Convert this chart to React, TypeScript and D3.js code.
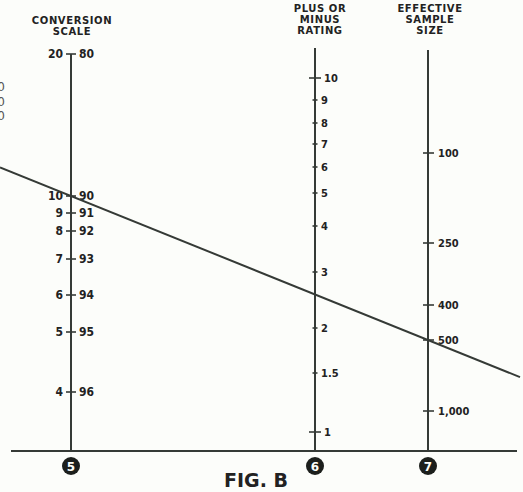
import React from "react";
import * as d3 from "d3";

// Nomogram data: tick labels and their positions along each scale (0 = baseline, 100 = top)
const conversionLeft = ["20", "10", "9", "8", "7", "6", "5", "4"];
const conversionRight = ["80", "90", "91", "92", "93", "94", "95", "96"];
const conversionPos = [99.25, 63.75, 59.5, 55, 48, 39, 29.75, 14.75];

const ratingLabels = ["10", "9", "8", "7", "6", "5", "4", "3", "2", "1.5", "1"];
const ratingPos = [93.25, 87.75, 82, 76.75, 71, 64.5, 56.25, 44.75, 30.75, 19.5, 4.75];

const sampleLabels = ["100", "250", "400", "500", "1,000"];
const samplePos = [74.5, 52, 36.5, 27.75, 10];

// Solution line: from "10" on the conversion scale to "500" on the sample-size scale
const solutionFrom = 63.75;
const solutionTo = 27.75;

const W = 523;
const H = 492;
const BASE = 451;
const AX5 = 71;
const AX6 = 315;
const AX7 = 428;
const INK = "#353a36";
const FONT = "'DejaVu Sans', sans-serif";
const NARROW = "'Liberation Sans Narrow', 'DejaVu Sans Condensed', 'Liberation Sans', sans-serif";

export default function App() {
  const y = d3.scaleLinear().domain([0, 100]).range([BASE, 51]);
  const slope = (y(solutionTo) - y(solutionFrom)) / (AX7 - AX5);
  const lineY = (x: number) => y(solutionFrom) + slope * (x - AX5);
  const line = d3.line<number>().x((d) => d).y((d) => lineY(d));

  const title = (lines: string[], cx: number, y0: number) =>
    lines.map((t, i) => (
      <text key={t} x={cx} y={y0 + i * 11} textAnchor="middle" fontFamily={FONT}
        fontWeight="bold" fontSize={10} letterSpacing={0.6} fill="#222">{t}</text>
    ));

  return (
    <svg width={W} height={H} style={{ position: "absolute", left: 0, top: 0 }}>
      <rect width={W} height={H} fill="#fcfdfa" />
      {/* cropped texts at left edge (partly outside the reference frame) */}
      {[91, 106, 120].map((yy) => (
        <text key={yy} x={5} y={yy} textAnchor="end" fontFamily={FONT} fontSize={12} fill="#555">0</text>
      ))}
      {title(["CONVERSION", "SCALE"], 72, 24)}
      {title(["PLUS OR", "MINUS", "RATING"], 320, 12)}
      {title(["EFFECTIVE", "SAMPLE", "SIZE"], 430, 12)}

      {/* baseline */}
      <line x1={11} x2={517} y1={BASE} y2={BASE} stroke={INK} strokeWidth={2} />
      {/* axes */}
      <line x1={AX5} x2={AX5} y1={y(99.25)} y2={BASE} stroke={INK} strokeWidth={2} />
      <line x1={AX6} x2={AX6} y1={48} y2={BASE} stroke={INK} strokeWidth={2} />
      <line x1={AX7} x2={AX7} y1={50} y2={BASE} stroke={INK} strokeWidth={2} />

      {/* conversion scale */}
      {conversionPos.map((p, i) => (
        <g key={i}>
          <line x1={AX5 - 5} x2={AX5 + 5} y1={y(p)} y2={y(p)} stroke={INK} strokeWidth={1.6} />
          <text x={AX5 - 8} y={y(p) + 4} textAnchor="end" fontFamily={NARROW} fontWeight="bold" fontSize={12} fill="#222">{conversionLeft[i]}</text>
          <text x={AX5 + 8} y={y(p) + 4} fontFamily={NARROW} fontWeight="bold" fontSize={12} fill="#222">{conversionRight[i]}</text>
        </g>
      ))}

      {/* rating scale */}
      {ratingPos.map((p, i) => {
        const big = ratingLabels[i] === "10" || ratingLabels[i] === "1";
        return (
          <g key={i}>
            <line x1={AX6 - (big ? 6 : 2.5)} x2={AX6 + (big ? 6 : 2.5)} y1={y(p)} y2={y(p)} stroke={INK} strokeWidth={1.6} />
            <text x={AX6 + (big ? 9 : 6)} y={y(p) + 4} fontFamily={NARROW} fontWeight="bold" fontSize={11} fill="#222">{ratingLabels[i]}</text>
          </g>
        );
      })}

      {/* sample size scale */}
      {samplePos.map((p, i) => (
        <g key={i}>
          <line x1={AX7 - 5} x2={AX7 + 6} y1={y(p)} y2={y(p)} stroke={INK} strokeWidth={1.6} />
          <text x={AX7 + 10} y={y(p) + 4} fontFamily={NARROW} fontWeight="bold" fontSize={11} fill="#222">{sampleLabels[i]}</text>
        </g>
      ))}

      {/* solution line */}
      <path d={line([0, 520]) || ""} stroke={INK} strokeWidth={2} fill="none" />

      {/* numbered markers */}
      {[[AX5, "5"], [AX6, "6"], [AX7, "7"]].map(([x, t]) => (
        <g key={t as string}>
          <circle cx={x as number} cy={466} r={9} fill="#1c1f1c" />
          <text x={x as number} y={470.5} textAnchor="middle" fontFamily={FONT} fontWeight="bold" fontSize={12} fill="#fcfdfa">{t}</text>
        </g>
      ))}
      <text x={256} y={487} textAnchor="middle" fontFamily={FONT} fontWeight="bold" fontSize={19} fill="#222">FIG. B</text>
    </svg>
  );
}
